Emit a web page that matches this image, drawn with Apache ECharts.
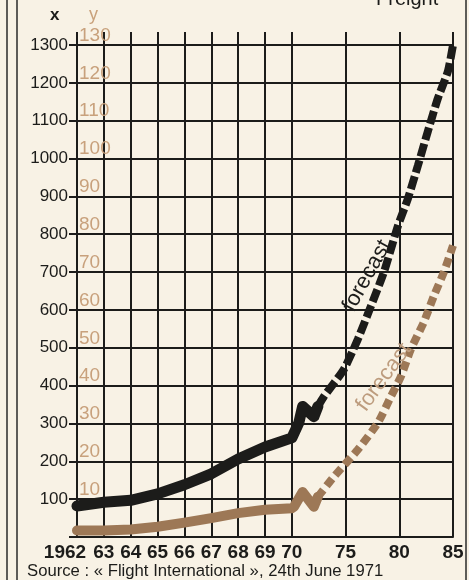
<!DOCTYPE html>
<html lang="en">
<head>
    <meta charset="UTF-8">
    <title>Freight</title>
    <style>
        html, body { margin: 0; padding: 0; background: #f8f2e5; }
        #chart { width: 469px; height: 580px; }
    </style>
    <script src="https://cdn.jsdelivr.net/npm/echarts@6/dist/echarts.min.js"></script>
</head>
<body>
    <div id="chart"></div>
    <script>
        // x axis: yearly to 1970, then every 5 years (blank = half step)
        var categories = ['1962', '63', '64', '65', '66', '67', '68', '69', '70', '', '75', '', '80', '', '85'];
        var xMax = 1300, xStep = 100;   // left scale "x"
        var yMax = 130, yStep = 10;     // tan scale "y"

        // black curve (left scale)
        var years = [1962, 1963, 1964, 1965, 1966, 1967, 1968, 1969, 1970];
        var xHistory = [82, 92, 97, 114, 138, 167, 206, 238, 262];
        var xBreak = [[1970.65, 302], [1971.0, 345], [1972.05, 318], [1972.42, 345]];
        var xForecast = [[1972.42, 345], [1972.98, 371], [1974.84, 443], [1976.15, 523], [1977.36, 610],
            [1978.57, 700], [1979.87, 822], [1980.8, 894], [1981.73, 981], [1982.66, 1072],
            [1983.59, 1159], [1984.53, 1231], [1985, 1300]];

        // tan curve (right scale)
        var yHistory = [1.7, 1.7, 2.0, 2.7, 3.8, 5.0, 6.3, 7.2, 7.6];
        var yBreak = [[1970.2, 8.0], [1971.0, 11.9], [1972.05, 8.0], [1972.42, 10.6]];
        var yForecast = [[1972.42, 10.6], [1973.91, 15.9], [1976.15, 23.1], [1978.01, 30.2], [1979.22, 37.1],
            [1980.15, 42.4], [1981.08, 49.6], [1982.29, 56.8], [1983.22, 63.7], [1984.15, 70.0], [1985, 77.0]];

        // year -> position on the axis (one step per year to 1970, then 2 steps per 5 years)
        function slot(yr) {
            return yr <= 1970 ? yr - 1962 : 8 + (yr - 1970) * 0.4;
        }
        function toPts(arr) {
            return arr.map(function (p) { return [slot(p[0]), p[1]]; });
        }
        var xHist = years.map(function (yr, i) { return [slot(yr), xHistory[i]]; }).concat(toPts(xBreak));
        var yHist = years.map(function (yr, i) { return [slot(yr), yHistory[i]]; }).concat(toPts(yBreak));

        var ink = '#1c1c1a';
        var tan = '#9d7856';
        var font = "'Liberation Sans', Arial, sans-serif";

        var chart = echarts.init(document.getElementById('chart'));

        var option = {
            backgroundColor: '#f8f2e5',
            animation: false,
            title: [
                { text: 'Freight', left: 376, top: -11, padding: 0, textStyle: { fontFamily: font, fontSize: 20, fontWeight: 'normal', color: ink } },
                { text: 'x', left: 50, top: 7, padding: 0, textStyle: { fontFamily: font, fontSize: 17, fontWeight: 'bold', color: ink } },
                { text: 'y', left: 89, top: 6, padding: 0, textStyle: { fontFamily: font, fontSize: 18, fontWeight: 'normal', color: '#c9a27c' } },
                { text: 'Source : « Flight International », 24th June 1971', left: 27, top: 563, padding: 0,
                  textStyle: { fontFamily: font, fontSize: 16.7, fontWeight: 'normal', color: ink } }
            ],
            graphic: [
                { type: 'line', shape: { x1: 7, y1: 0, x2: 7, y2: 580 }, style: { stroke: '#2a2a28', lineWidth: 1.5 } },
                { type: 'line', shape: { x1: 17, y1: 0, x2: 17, y2: 580 }, style: { stroke: '#2a2a28', lineWidth: 1.5 } },
                { type: 'line', shape: { x1: 466, y1: 0, x2: 466, y2: 580 }, style: { stroke: '#2a2a28', lineWidth: 1.5 } }
            ],
            grid: [
                { left: 77, right: 16, top: 32, bottom: 43, outerBoundsMode: 'none' },
                { left: 77, right: 16, top: 45, bottom: 43, outerBoundsMode: 'none' }
            ],
            xAxis: [
                {
                    type: 'category', gridIndex: 0, data: categories, boundaryGap: false,
                    axisLine: { show: true, lineStyle: { color: ink, width: 2 } },
                    axisTick: { show: false },
                    splitLine: {
                        show: true,
                        interval: function (i, v) { return v !== ''; },
                        lineStyle: { color: ink, width: 2 }
                    },
                    axisLabel: {
                        interval: function (i, v) { return v !== ''; },
                        margin: 6,
                        fontFamily: font, fontSize: 19, fontWeight: 'bold', color: ink,
                        formatter: function (v, i) { return i === 0 ? '{f|' + v + '}' : v; },
                        rich: { f: { padding: [0, 24, 0, 0], fontFamily: font, fontSize: 19, fontWeight: 'bold', color: ink } }
                    }
                },
                { type: 'value', gridIndex: 1, min: 0, max: categories.length - 1, show: false }
            ],
            yAxis: [
                { type: 'value', gridIndex: 0, min: 0, max: 1, show: false },
                {
                    type: 'value', gridIndex: 1, position: 'left', min: 0, max: xMax, interval: xStep,
                    axisLine: { show: false },
                    axisTick: { show: true, length: 8, lineStyle: { color: ink, width: 2 } },
                    splitLine: { show: true, lineStyle: { color: ink, width: 2 } },
                    axisLabel: {
                        margin: 9, fontFamily: font, fontSize: 17, color: ink,
                        formatter: function (v) { return v === 0 ? '' : v; }
                    }
                },
                {
                    type: 'value', gridIndex: 1, position: 'left', min: 0, max: yMax, interval: yStep,
                    axisLine: { show: false }, axisTick: { show: false }, splitLine: { show: false },
                    axisLabel: {
                        inside: true, margin: 2, verticalAlign: 'bottom',
                        fontFamily: font, fontSize: 19, color: '#c8a17c',
                        formatter: function (v) { return v === 0 ? '' : v; }
                    }
                }
            ],
            series: [
                {
                    name: 'y history', type: 'line', xAxisIndex: 1, yAxisIndex: 2, data: yHist,
                    symbol: 'none', clip: false,
                    lineStyle: { color: tan, width: 10, join: 'round', cap: 'round' }
                },
                {
                    name: 'y forecast', type: 'line', xAxisIndex: 1, yAxisIndex: 2, data: toPts(yForecast),
                    symbol: 'none', clip: false, smooth: 0.2,
                    lineStyle: { color: tan, width: 8, type: [9, 5], cap: 'butt' },
                    markPoint: {
                        symbolSize: 0,
                        data: [{ coord: [slot(1978.57), 42.2] }],
                        label: { show: true, position: 'inside', formatter: 'forecast', rotate: 54,
                                 fontFamily: font, fontSize: 22, color: '#bd9c7e' }
                    }
                },
                {
                    name: 'x history', type: 'line', xAxisIndex: 1, yAxisIndex: 1, data: xHist,
                    symbol: 'none', clip: false,
                    lineStyle: { color: ink, width: 11, join: 'round', cap: 'round' }
                },
                {
                    name: 'x forecast', type: 'line', xAxisIndex: 1, yAxisIndex: 1, data: toPts(xForecast),
                    symbol: 'none', clip: false, smooth: 0.2,
                    lineStyle: { color: ink, width: 8, type: [13, 4], cap: 'butt' },
                    markPoint: {
                        symbolSize: 0,
                        data: [{ coord: [slot(1977.0), 690] }],
                        label: { show: true, position: 'inside', formatter: 'forecast', rotate: 61,
                                 fontFamily: font, fontSize: 22, color: ink }
                    }
                }
            ]
        };

        chart.setOption(option);
    </script>
</body>
</html>
